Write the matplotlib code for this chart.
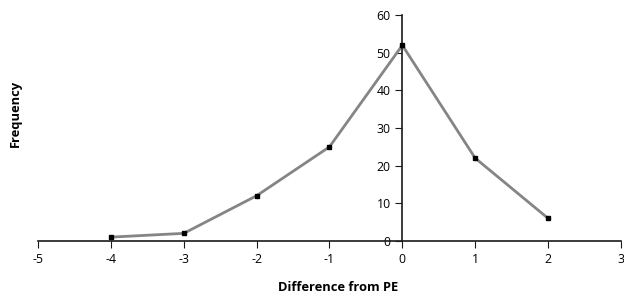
import matplotlib.pyplot as plt

# Data
diffs = [-4, -3, -2, -1, 0, 1, 2]
freq = [1, 2, 12, 25, 52, 22, 6]

x_ticks = [-5, -4, -3, -2, -1, 0, 1, 2, 3]
y_ticks = [0, 10, 20, 30, 40, 50, 60]

plt.rcParams['font.family'] = ['Open Sans', 'DejaVu Sans']
plt.rcParams['axes.unicode_minus'] = False

fig = plt.figure(figsize=(6.24, 3.03), dpi=100)
ax = fig.add_axes([0.061, 0.205, 0.934, 0.745])

ax.plot(diffs, freq, color='#858585', linewidth=2, zorder=2)
ax.plot(diffs, freq, linestyle='none', marker='s', markersize=3,
        color='black', zorder=3)

ax.set_xlim(-5, 3)
ax.set_ylim(0, 60)
ax.set_xticks(x_ticks)
ax.set_yticks(y_ticks)

# y axis crosses at x = 0
ax.spines['left'].set_position(('data', 0))
ax.spines['right'].set_visible(False)
ax.spines['top'].set_visible(False)
for s in ['left', 'bottom']:
    ax.spines[s].set_linewidth(1.2)
    ax.spines[s].set_color('#1a1a1a')

ax.tick_params(axis='both', labelsize=8.8, direction='out', length=5,
               width=0.8, color='#1a1a1a')

fig.text(0.542, 0.05, 'Difference from PE', fontsize=9.3, fontweight='bold',
         ha='center', va='center')
fig.text(0.024, 0.627, 'Frequency', rotation=90, fontsize=9.3,
         fontweight='bold', ha='center', va='center')

fig.savefig('out.png', dpi=100)
